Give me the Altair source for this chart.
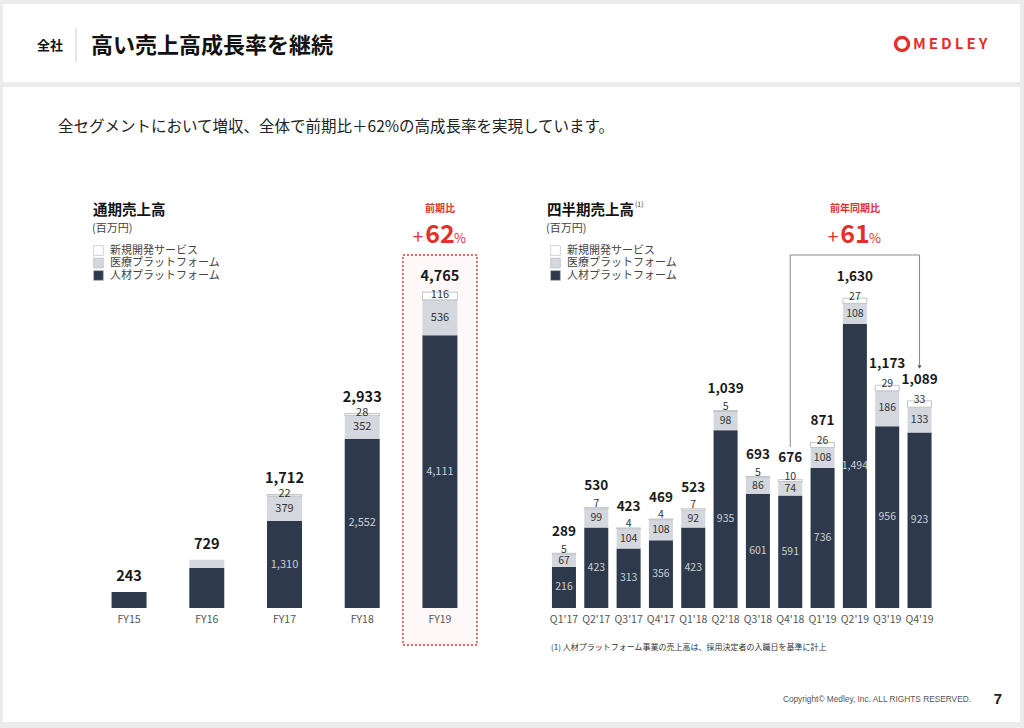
import altair as alt
import pandas as pd

FONT = "Noto Sans CJK JP"
LATIN = "Liberation Sans"
DARK = "#2e3a4c"
GREY = "#d4d7dd"
WHITE = "#ffffff"
EDGE = "#b3b7be"
RED = "#e2312c"

SEGMENTS = ["人材プラットフォーム", "医療プラットフォーム", "新規開発サービス"]
LEGEND_ORDER = ["新規開発サービス", "医療プラットフォーム", "人材プラットフォーム"]
LEGEND_COLORS = [WHITE, GREY, DARK]

# Annual revenue (million yen)
years = ["FY15", "FY16", "FY17", "FY18", "FY19"]
year_hr = [243, 603, 1310, 2552, 4111]
year_med = [0, 126, 379, 352, 536]
year_new = [0, 0, 22, 28, 116]
year_total = [243, 729, 1712, 2933, 4765]
year_labelled = [False, False, True, True, True]

# Quarterly revenue (million yen)
quarters = ["Q1'17", "Q2'17", "Q3'17", "Q4'17", "Q1'18", "Q2'18",
            "Q3'18", "Q4'18", "Q1'19", "Q2'19", "Q3'19", "Q4'19"]
q_hr = [216, 423, 313, 356, 423, 935, 601, 591, 736, 1494, 956, 923]
q_med = [67, 99, 104, 108, 92, 98, 86, 74, 108, 108, 186, 133]
q_new = [5, 7, 4, 4, 7, 5, 5, 10, 26, 27, 29, 33]
q_total = [289, 530, 423, 469, 523, 1039, 693, 676, 871, 1630, 1173, 1089]
q_labelled = [True] * len(quarters)


def stacked(cats, hr, med, new):
    rows = []
    for c, a, b, n in zip(cats, hr, med, new):
        lo = 0
        for seg, v in zip(SEGMENTS, (a, b, n)):
            if v > 0:
                rows.append({"cat": c, "seg": seg, "lo": lo, "hi": lo + v})
            lo += v
    return pd.DataFrame(rows)


def labels(cats, hr, med, new, total, show):
    return pd.DataFrame({
        "cat": cats,
        "hr": hr, "med": med, "new": new, "total": total, "show": show,
        "hr_mid": [a / 2 for a in hr],
        "med_mid": [a + b / 2 for a, b in zip(hr, med)],
        "new_mid": [a + b + n / 2 for a, b, n in zip(hr, med, new)],
    })


def one(s):
    return pd.DataFrame({"t": [s]})


def txt(s, x, y, size, color="#222", weight="normal", align="left",
        baseline="middle", font=FONT):
    return alt.Chart(one(s)).mark_text(
        font=font, fontSize=size, color=color, fontWeight=weight,
        align=align, baseline=baseline,
    ).encode(text="t:N", x=alt.value(x), y=alt.value(y))


def box(x, x2, y, y2, color, **kw):
    return alt.Chart(one("")).mark_rect(color=color, **kw).encode(
        x=alt.value(x), x2=alt.value(x2), y=alt.value(y), y2=alt.value(y2))


def panel(cats, long_df, lab_df, xrange, pad, ymax, ytop, legend_xy,
          seg_size, total_size, total_dy, new_dy, extra=()):
    xs = alt.Scale(domain=cats, range=xrange, paddingInner=pad, paddingOuter=pad / 2)
    ys = alt.Scale(domain=[0, ymax], range=[608, ytop], nice=False, zero=True)
    X = alt.X("cat:N", scale=xs, axis=None, sort=cats)

    bars = alt.Chart(long_df).mark_bar(strokeWidth=0.8).encode(
        x=X,
        y=alt.Y("lo:Q", scale=ys, axis=None),
        y2="hi:Q",
        color=alt.Color("seg:N", scale=alt.Scale(domain=LEGEND_ORDER, range=LEGEND_COLORS),
                        legend=alt.Legend(
                            orient="none", legendX=legend_xy[0], legendY=legend_xy[1],
                            title=None, symbolType="square", symbolSize=95,
                            symbolStrokeColor=EDGE, symbolStrokeWidth=0.6,
                            labelFont=FONT, labelFontSize=11, labelColor="#444",
                            rowPadding=-0.5, labelOffset=6, padding=0)),
        stroke=alt.condition(alt.datum.seg == "新規開発サービス",
                             alt.value(EDGE), alt.value("transparent")),
    )

    base = alt.Chart(lab_df)
    shown = base.transform_filter(alt.datum.show)

    axis_labels = base.mark_text(font=FONT, fontSize=10.5, color="#555").encode(
        x=X, y=alt.value(620), text="cat:N")
    totals = base.mark_text(font=FONT, fontSize=total_size, fontWeight="bold",
                            color="#1a1a1a", dy=total_dy).encode(
        x=X, y=alt.Y("total:Q", scale=ys), text=alt.Text("total:Q", format=","))
    hr_lab = shown.mark_text(font=FONT, fontSize=seg_size, color="#c9ced7").encode(
        x=X, y=alt.Y("hr_mid:Q", scale=ys), text=alt.Text("hr:Q", format=","))
    med_lab = shown.mark_text(font=FONT, fontSize=seg_size, color="#333").encode(
        x=X, y=alt.Y("med_mid:Q", scale=ys), text=alt.Text("med:Q", format=","))
    new_lab = shown.mark_text(font=FONT, fontSize=seg_size, color="#333", dy=new_dy).encode(
        x=X, y=alt.Y("new_mid:Q", scale=ys), text=alt.Text("new:Q", format=","))

    return alt.layer(*[e(X) for e in extra], bars, axis_labels, totals,
                     hr_lab, med_lab, new_lab)


# FY19 highlight frame behind the annual bars
def fy19_frame(X):
    return alt.Chart(pd.DataFrame({"cat": ["FY19"]})).mark_bar(
        width=74, fill="#fff8f8", stroke=RED, strokeDash=[2, 2], strokeWidth=1.4,
    ).encode(x=X, y=alt.value(255), y2=alt.value(645))


# Year-on-year bracket from Q4'18 to Q4'19
def yoy_bracket(X):
    d = pd.DataFrame({"cat": ["Q4'18", "Q4'19"]})
    top = alt.Chart(d).mark_line(color="#8a8a8a", strokeWidth=1).encode(
        x=X, y=alt.value(255))
    left = alt.Chart(pd.DataFrame({"cat": ["Q4'18"]})).mark_rule(
        color="#8a8a8a", strokeWidth=1).encode(x=X, y=alt.value(255), y2=alt.value(447))
    right = alt.Chart(pd.DataFrame({"cat": ["Q4'19"]})).mark_rule(
        color="#8a8a8a", strokeWidth=1).encode(x=X, y=alt.value(255), y2=alt.value(365))
    tip = alt.Chart(pd.DataFrame({"cat": ["Q4'19"]})).mark_point(
        shape="triangle-down", filled=True, size=16, color="#555", opacity=1).encode(
        x=X, y=alt.value(367))
    return alt.layer(top, left, right, tip)


annual = panel(years, stacked(years, year_hr, year_med, year_new),
               labels(years, year_hr, year_med, year_new, year_total, year_labelled),
               [90.2, 478.8], 0.55, 4765, 292, (93, 245),
               11, 14.5, -15, -1, extra=(fy19_frame,))

quarterly = panel(quarters, stacked(quarters, q_hr, q_med, q_new),
                  labels(quarters, q_hr, q_med, q_new, q_total, q_labelled),
                  [547.8, 935.7], 0.257, 1630, 298, (550, 245),
                  10.5, 13.5, -21, -4, extra=(yoy_bracket,))

page = [
    box(3, 1020, 4, 82, WHITE),
    box(3, 1020, 87, 722, WHITE),
    box(75.5, 76.5, 28, 62, "#cfcfcf"),
    txt("全社", 37, 46, 13, "#111", "bold"),
    txt("高い売上高成長率を継続", 91, 46, 22, "#111", "bold"),
    alt.Chart(one("")).mark_point(shape="circle", size=170, strokeWidth=3.4,
                                  color=RED, opacity=1).encode(
        x=alt.value(902), y=alt.value(44)),
    txt("M\u2009E\u2009D\u2009L\u2009E\u2009Y", 913, 44, 15, RED, "bold"),
    txt("全セグメントにおいて増収、全体で前期比＋62%の高成長率を実現しています。",
        58, 127, 15.5, "#222"),
    txt("通期売上高", 93, 211, 14.5, "#111", "bold"),
    txt("(百万円)", 92, 229, 11, "#444"),
    txt("四半期売上高", 547, 211, 14.5, "#111", "bold"),
    txt("(1)", 635, 205, 7, "#444"),
    txt("(百万円)", 546, 229, 11, "#444"),
    txt("前期比", 440, 209, 10, RED, "bold", "center"),
    txt("+", 418, 238, 19, RED, "normal", "center"),
    txt("62", 440, 235, 25, RED, "bold", "center"),
    txt("%", 460, 239, 13, RED, "normal", "center"),
    txt("前年同期比", 855, 209, 10, RED, "bold", "center"),
    txt("+", 833, 238, 19, RED, "normal", "center"),
    txt("61", 855, 235, 25, RED, "bold", "center"),
    txt("%", 875, 239, 13, RED, "normal", "center"),
    txt("(1) 人材プラットフォーム事業の売上高は、採用決定者の入職日を基準に計上",
        551, 648, 8, "#333"),
    txt("Copyright© Medley, Inc. ALL RIGHTS RESERVED.", 971, 700, 8.3, "#555",
        "normal", "right", font=LATIN),
    txt("7", 998, 699, 15, "#222", "bold", "center", font=LATIN),
]

chart = alt.layer(*page, annual, quarterly).resolve_scale(
    x="independent", y="independent", color="independent"
).properties(
    width=1024, height=728, padding=0, autosize="none", background="#ececec"
).configure_view(stroke=None)

chart.save("out.html", embed_options={"renderer": "svg", "actions": False})
